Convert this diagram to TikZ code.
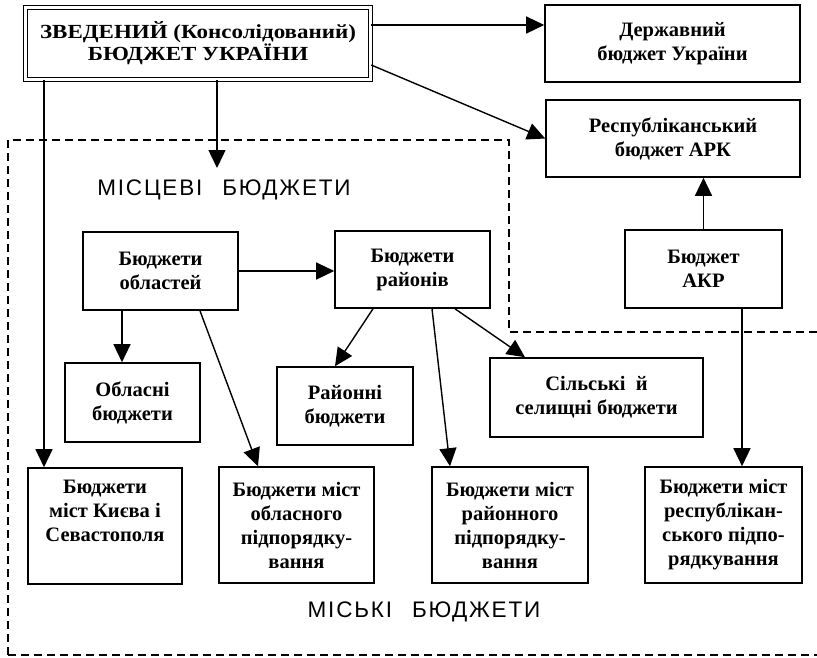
\documentclass[tikz,border=0pt]{standalone}
\usepackage{fontspec}
\setmainfont{Liberation Serif}
\newfontfamily\widefont[FakeStretch=1.15]{Liberation Serif}
\newfontfamily\labfont[LetterSpace=8]{Liberation Sans}
\usetikzlibrary{arrows.meta}
\begin{document}
\begin{tikzpicture}[x=1pt,y=-1pt,
  box/.style={draw, line width=1.6pt, align=center, inner sep=2pt,
    font=\fontsize{20.5}{24}\selectfont\bfseries},
  mainbox/.style={draw, double, double distance=2.5pt, line width=1.5pt, align=center,
    font=\fontsize{20}{22}\widefont\bfseries},
  arr/.style={line width=1.4pt, -{Triangle[length=18pt,width=17pt]}},
  dashline/.style={line width=1.4pt, dash pattern=on 8pt off 5pt},
  lab/.style={font=\fontsize{22.5}{24}\labfont}]
\useasboundingbox (0,0) rectangle (817,657);
\fill[white] (0,0) rectangle (817,657);

% dashed region
\draw[dashline] (8,655) -- (8,140) -- (509,140) -- (509,332) -- (817,332);
\draw[dashline] (8,655) -- (817,655);

\node[mainbox, minimum width=345pt, minimum height=72pt] (main) at (198,43.5)
  {ЗВЕДЕНИЙ (Консолідований)\\БЮДЖЕТ УКРАЇНИ};
\node[box, minimum width=255pt, minimum height=77pt] (derzh) at (672.5,43.5)
  {Державний\\бюджет України};
\node[box, minimum width=254pt, minimum height=77pt] (resp) at (673,138.5)
  {Республіканський\\бюджет АРК};
\node[box, minimum width=155pt, minimum height=78pt] (obl) at (160.5,271)
  {Бюджети\\областей};
\node[box, minimum width=155pt, minimum height=77pt] (rai) at (412.5,269.5)
  {Бюджети\\районів};
\node[box, minimum width=157pt, minimum height=78pt] (akr) at (703.5,269)
  {Бюджет\\АКР};
\node[box, minimum width=135pt, minimum height=79pt] (oblb) at (132.5,402.5)
  {Обласні\\бюджети};
\node[box, minimum width=136pt, minimum height=78pt] (raib) at (345,406)
  {Районні\\бюджети};
\node[box, minimum width=213pt, minimum height=79pt] (sil) at (596.5,397.5)
  {Сільські~~й\\селищні бюджети};
\node[box, minimum width=154pt, minimum height=116pt] (kiev) at (105,526)
  {Бюджети\\міст Києва і\\Севастополя\\\strut};
\node[box, minimum width=155pt, minimum height=116pt] (mobl) at (296.5,525)
  {Бюджети міст\\обласного\\підпорядку-\\вання};
\node[box, minimum width=156pt, minimum height=116pt] (mrai) at (510,525)
  {Бюджети міст\\районного\\підпорядку-\\вання};
\node[box, minimum width=157pt, minimum height=116pt] (mresp) at (723.5,525)
  {Бюджети міст\\республікан-\\ського підпо-\\рядкування};

\node[lab] (mlab) at (224,190) {МІСЦЕВІ\hspace{20pt}БЮДЖЕТИ};
\node[lab] (clab) at (424,612) {МІСЬКІ\hspace{20pt}БЮДЖЕТИ};

\coordinate (mtip) at (217,168);

% connectors
\draw[arr] ([yshift=18.5pt]main.east) -- ([yshift=18.5pt]derzh.west);
\draw[arr] ([yshift=-21.5pt]main.east) -- (resp.west);
\draw[arr] ([xshift=19pt]main.south) -- (mtip);
\draw[arr] ([xshift=-154pt]main.south) -- ([xshift=-61pt]kiev.north);
\draw[arr] (obl.east) -- (obl.east -| rai.west);
\draw[arr] ([xshift=-38.5pt]obl.south) -- ([xshift=-10.5pt]oblb.north);
\draw[arr] ([xshift=39.5pt]obl.south) -- ([xshift=-38.5pt]mobl.north);
\draw[arr] ([xshift=-39.5pt]rai.south) -- ([xshift=-10pt]raib.north);
\draw[arr] ([xshift=19.5pt]rai.south) -- ([xshift=-60pt]mrai.north);
\draw[arr] ([xshift=42.5pt]rai.south) -- ([xshift=-71.5pt]sil.north);
\draw[arr] (akr.north) -- ([xshift=30.5pt]resp.south);
\draw[arr] ([xshift=38.5pt]akr.south) -- ([xshift=18.5pt]mresp.north);
\end{tikzpicture}
\end{document}
